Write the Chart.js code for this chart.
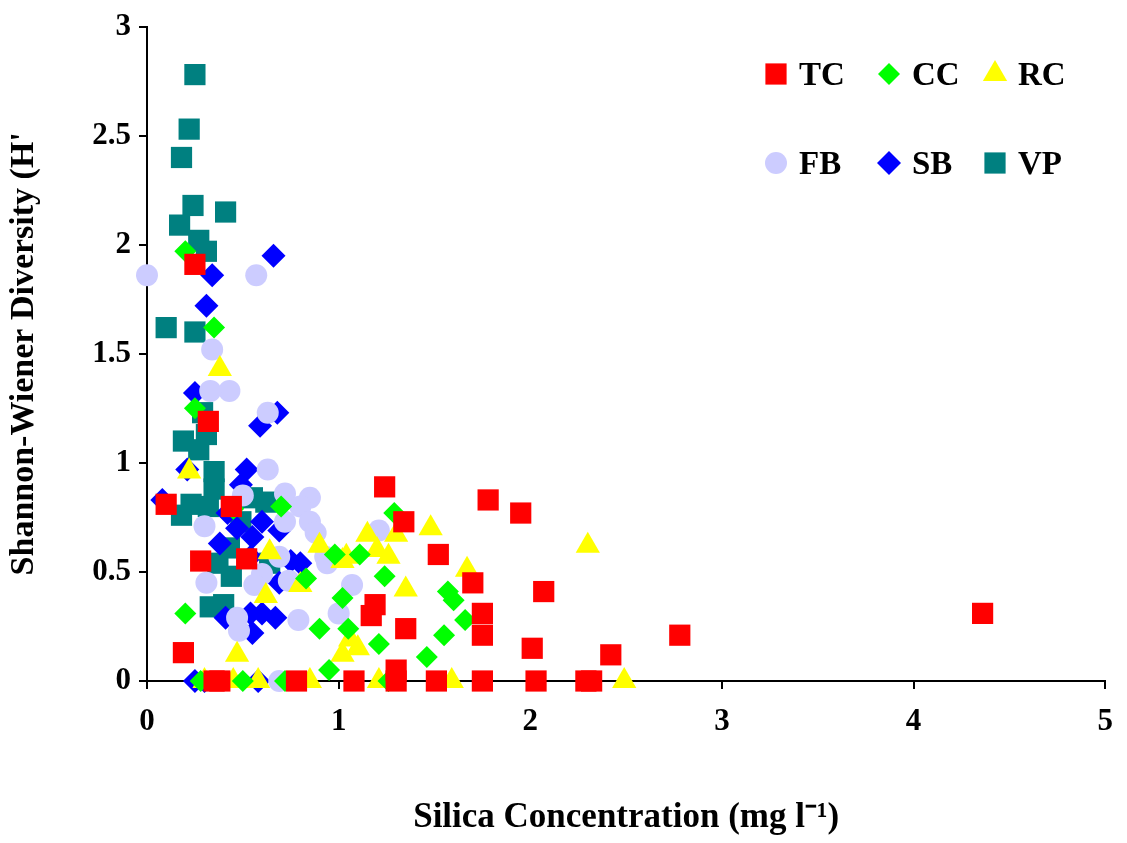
<!DOCTYPE html>
<html>
<head>
<meta charset="utf-8">
<script src="https://cdn.jsdelivr.net/npm/chart.js@4.4.1/dist/chart.umd.min.js"></script>
<style>
  html, body { margin: 0; padding: 0; background: #fff; }
  #wrap { width: 1127px; height: 843px; }
</style>
</head>
<body>
<div id="wrap"><canvas id="c" width="1127" height="843"></canvas></div>
<script>
// values: [silica, diversity]
const tcPoints = [[0.10,0.81],[0.19,0.13],[0.25,1.91],[0.32,1.19],[0.28,0.55],[0.35,0],[0.38,0],[0.44,0.80],[0.52,0.56],
  [0.78,0],[1.08,0],[1.17,0.30],[1.19,0.35],[1.24,0.89],[1.30,0],[1.30,0.05],[1.34,0.73],[1.35,0.24],[1.51,0],[1.52,0.58],
  [1.70,0.45],[1.75,0.31],[1.75,0.21],[1.75,0],[1.78,0.83],[1.95,0.77],[2.01,0.15],[2.03,0],[2.07,0.41],[2.29,0],[2.32,0],
  [2.42,0.12],[2.78,0.21],[4.36,0.31]];
const ccPoints = [[0.20,1.97],[0.35,1.62],[0.25,1.25],[0.20,0.31],[0.50,0],[0.72,0],[0.83,0.47],[0.90,0.24],[0.95,0.05],
  [0.98,0.58],[1.02,0.38],[1.05,0.24],[1.11,0.58],[1.29,0.77],[1.24,0.48],[1.57,0.41],[1.60,0.37],[1.66,0.28],[1.55,0.21],
  [1.46,0.11],[1.26,0],[1.21,0.17],[0.28,0],[0.45,0.79],[0.70,0.80]];
const rcPoints = [[0.38,1.43],[0.22,0.96],[0.47,0.12],[0.45,0],[0.58,0],[0.62,0.39],[0.85,0],[1.48,0.70],[1.30,0.67],
  [1.26,0.57],[1.35,0.42],[1.67,0.51],[2.30,0.62],[2.49,0],[1.59,0],[1.21,0],[1.02,0.55],[1.04,0.57],[1.15,0.67],
  [1.20,0.60],[1.02,0.12],[1.06,0.19],[1.10,0.15],[0.90,0.62],[0.80,0.44],[0.64,0.59],[0.30,0]];
const fbPoints = [[0,1.86],[0.57,1.86],[0.34,1.52],[0.43,1.33],[0.33,1.33],[0.63,1.23],[0.63,0.97],[0.72,0.86],[0.85,0.84],
  [0.80,0.80],[0.85,0.73],[0.88,0.68],[0.93,0.57],[0.94,0.54],[0.30,0.71],[0.31,0.45],[0.47,0.29],[0.48,0.23],[0.79,0.28],
  [1.00,0.31],[1.07,0.44],[1.21,0.69],[0.69,0],[0.60,0.49],[0.56,0.44],[0.69,0.57],[0.72,0.73],[0.74,0.46],[0.50,0.85]];
const sbPoints = [[0.66,1.95],[0.34,1.86],[0.31,1.72],[0.25,1.32],[0.68,1.23],[0.59,1.17],[0.21,0.97],[0.52,0.97],
  [0.49,0.90],[0.08,0.83],[0.60,0.73],[0.69,0.69],[0.42,0.77],[0.38,0.63],[0.54,0.57],[0.75,0.55],[0.80,0.54],[0.69,0.45],
  [0.54,0.31],[0.60,0.31],[0.67,0.29],[0.41,0.29],[0.55,0.22],[0.25,0],[0.30,0],[0.58,0],[0.55,0.66],[0.47,0.70]];
const vpPoints = [[0.25,2.78],[0.22,2.53],[0.18,2.40],[0.24,2.18],[0.41,2.15],[0.17,2.09],[0.27,2.02],[0.31,1.97],
  [0.10,1.62],[0.25,1.60],[0.29,1.23],[0.31,1.13],[0.19,1.10],[0.27,1.06],[0.35,0.96],[0.35,0.88],[0.32,0.80],[0.23,0.81],
  [0.18,0.76],[0.55,0.84],[0.62,0.82],[0.49,0.73],[0.43,0.61],[0.37,0.54],[0.64,0.54],[0.44,0.48],[0.33,0.34],[0.40,0.35]];

const seriesNames = ['TC', 'CC', 'RC', 'FB', 'SB', 'VP'];
const xTicks = [0, 1, 2, 3, 4, 5];
const yTicks = [0, 0.5, 1, 1.5, 2, 2.5, 3];

const styles = [
  { color: '#FF0000', shape: 'rect',     r: 15 },
  { color: '#00FF00', shape: 'rectRot',  r: 11 },
  { color: '#FFFF00', shape: 'triangle', r: 14 },
  { color: '#CCCCFF', shape: 'circle',   r: 11 },
  { color: '#0000FF', shape: 'rectRot',  r: 12 },
  { color: '#008080', shape: 'rect',     r: 15 }
];
const allPoints = [tcPoints, ccPoints, rcPoints, fbPoints, sbPoints, vpPoints];

const FONT = '"Liberation Serif", "Times New Roman", serif';

const legendPlugin = {
  id: 'boxLegend',
  afterDraw(chart) {
    const ctx = chart.ctx;
    const cols = [776, 889, 995];
    const rows = [74, 163];
    ctx.save();
    ctx.font = 'bold 33px ' + FONT;
    ctx.textBaseline = 'middle';
    seriesNames.forEach((name, i) => {
      const x = cols[i % 3], y = rows[Math.floor(i / 3)];
      const s = styles[i];
      ctx.fillStyle = s.color;
      ctx.strokeStyle = s.color;
      Chart.helpers.drawPoint(ctx, { pointStyle: s.shape, radius: s.r, borderWidth: 0 }, x, y);
      ctx.fillStyle = '#000';
      ctx.fillText(name, x + 23, y + 2);
    });
    ctx.restore();
  }
};

new Chart(document.getElementById('c'), {
  type: 'scatter',
  data: {
    datasets: allPoints.map((pts, i) => ({
      label: seriesNames[i],
      data: pts.map(p => ({ x: p[0], y: p[1] })),
      pointStyle: styles[i].shape,
      pointRadius: styles[i].r,
      pointHoverRadius: styles[i].r,
      backgroundColor: styles[i].color,
      borderColor: styles[i].color,
      borderWidth: 0,
      clip: false
    }))
  },
  options: {
    responsive: false,
    animation: false,
    layout: { padding: { top: 22, right: 19, left: 0, bottom: 0 } },
    scales: {
      x: {
        type: 'linear', min: 0, max: 5,
        afterBuildTicks: s => { s.ticks = xTicks.map(v => ({ value: v })); },
        afterFit: s => { s.height = 162; },
        grid: { display: true, drawOnChartArea: false, drawTicks: true, tickLength: 8, color: '#000', lineWidth: 2 },
        border: { color: '#000', width: 2 },
        ticks: { color: '#000', font: { family: FONT, size: 31, weight: 'bold' }, padding: 14,
                 callback: v => String(v) },
        title: { display: true, text: 'Silica Concentration (mg l\u207B\u00B9)', color: '#000',
                 font: { family: FONT, size: 35, weight: 'bold' }, padding: { top: 34 } }
      },
      y: {
        type: 'linear', min: 0, max: 3,
        afterBuildTicks: s => { s.ticks = yTicks.map(v => ({ value: v })); },
        afterFit: s => { s.width = 147; },
        grid: { display: true, drawOnChartArea: false, drawTicks: true, tickLength: 8, color: '#000', lineWidth: 2 },
        border: { color: '#000', width: 2 },
        ticks: { color: '#000', font: { family: FONT, size: 31, weight: 'bold' }, padding: 8,
                 callback: v => String(v) },
        title: { display: true, text: "Shannon-Wiener Diversity (H'", color: '#000',
                 font: { family: FONT, size: 34, weight: 'bold' }, padding: { bottom: 8 } }
      }
    },
    plugins: { legend: { display: false }, tooltip: { enabled: false } }
  },
  plugins: [legendPlugin]
});
</script>
</body>
</html>
